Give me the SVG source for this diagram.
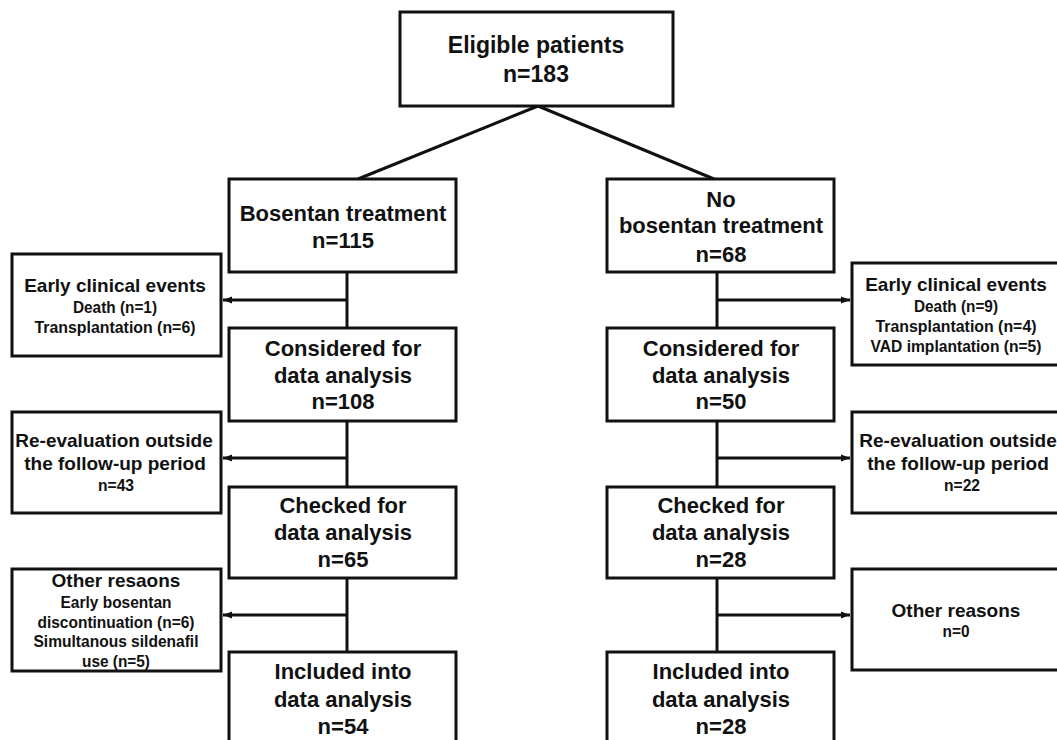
<svg xmlns="http://www.w3.org/2000/svg" width="1057" height="740" viewBox="0 0 1057 740">
<style>
.box{fill:#fff;stroke:#111;stroke-width:3}
.ln{fill:none;stroke:#111;stroke-width:3}
text{font-family:"Liberation Sans",Arial,sans-serif;font-weight:bold;fill:#111;text-anchor:middle}
.big{font-size:22px}
.top{font-size:23px}
.mid{font-size:19px}
.sm{font-size:17px}
</style>
<defs>
<marker id="ah" markerUnits="userSpaceOnUse" markerWidth="10" markerHeight="10" refX="9" refY="5" orient="auto">
<path d="M0,1.5 L9,5 L0,8.5 Z" fill="#111"/>
</marker>
</defs>
<rect width="1057" height="740" fill="#fff"/>
<g id="connectors">
<line class="ln" x1="538" y1="106" x2="358" y2="179"/>
<line class="ln" x1="538" y1="106" x2="714" y2="179"/>
<line class="ln" x1="347" y1="272" x2="347" y2="328"/>
<line class="ln" x1="347" y1="421" x2="347" y2="487"/>
<line class="ln" x1="347" y1="578" x2="347" y2="652"/>
<line class="ln" x1="347" y1="300" x2="223" y2="300" marker-end="url(#ah)"/>
<line class="ln" x1="347" y1="458" x2="223" y2="458" marker-end="url(#ah)"/>
<line class="ln" x1="347" y1="615" x2="223" y2="615" marker-end="url(#ah)"/>
<line class="ln" x1="717" y1="272" x2="717" y2="328"/>
<line class="ln" x1="717" y1="421" x2="717" y2="487"/>
<line class="ln" x1="717" y1="578" x2="717" y2="652"/>
<line class="ln" x1="717" y1="300" x2="850" y2="300" marker-end="url(#ah)"/>
<line class="ln" x1="717" y1="458" x2="850" y2="458" marker-end="url(#ah)"/>
<line class="ln" x1="717" y1="615" x2="850" y2="615" marker-end="url(#ah)"/>
</g>
<g id="eligible">
<rect class="box" x="400" y="12" width="273" height="94"/>
<text class="top" x="536" y="53">Eligible patients</text>
<text class="top" x="536" y="82">n=183</text>
</g>
<g id="bosentan">
<rect class="box" x="229" y="179" width="227" height="93"/>
<text class="big" x="343" y="221">Bosentan treatment</text>
<text class="big" x="343" y="248">n=115</text>
</g>
<g id="nobosentan">
<rect class="box" x="607" y="179" width="227" height="93"/>
<text class="big" x="721" y="207">No</text>
<text class="big" x="721" y="233">bosentan treatment</text>
<text class="big" x="721" y="262">n=68</text>
</g>
<g id="early-left">
<rect class="box" x="12" y="254" width="209" height="102"/>
<text class="mid" x="115" y="292">Early clinical events</text>
<text class="sm" x="115" y="313" textLength="84" lengthAdjust="spacingAndGlyphs">Death (n=1)</text>
<text class="sm" x="115" y="333" textLength="161" lengthAdjust="spacingAndGlyphs">Transplantation (n=6)</text>
</g>
<g id="considered-left">
<rect class="box" x="229" y="328" width="227" height="93"/>
<text class="big" x="343" y="356">Considered for</text>
<text class="big" x="343" y="383">data analysis</text>
<text class="big" x="343" y="409">n=108</text>
</g>
<g id="reeval-left">
<rect class="box" x="12" y="412" width="209" height="101"/>
<text class="mid" x="114" y="447">Re-evaluation outside</text>
<text class="mid" x="115" y="470">the follow-up period</text>
<text class="sm" x="116" y="491" textLength="36" lengthAdjust="spacingAndGlyphs">n=43</text>
</g>
<g id="checked-left">
<rect class="box" x="229" y="487" width="227" height="91"/>
<text class="big" x="343" y="513">Checked for</text>
<text class="big" x="343" y="540">data analysis</text>
<text class="big" x="343" y="567">n=65</text>
</g>
<g id="other-left">
<rect class="box" x="12" y="569" width="209" height="102"/>
<text class="mid" x="116" y="587">Other resaons</text>
<text class="sm" x="116" y="608" textLength="111" lengthAdjust="spacingAndGlyphs">Early bosentan</text>
<text class="sm" x="116" y="628" textLength="157" lengthAdjust="spacingAndGlyphs">discontinuation (n=6)</text>
<text class="sm" x="116" y="647" textLength="165" lengthAdjust="spacingAndGlyphs">Simultanous sildenafil</text>
<text class="sm" x="116" y="667" textLength="68" lengthAdjust="spacingAndGlyphs">use (n=5)</text>
</g>
<g id="included-left">
<rect class="box" x="229" y="652" width="227" height="95"/>
<text class="big" x="343" y="679">Included into</text>
<text class="big" x="343" y="707">data analysis</text>
<text class="big" x="343" y="734">n=54</text>
</g>
<g id="early-right">
<rect class="box" x="852" y="263" width="210" height="102"/>
<text class="mid" x="956" y="291">Early clinical events</text>
<text class="sm" x="956" y="312" textLength="84" lengthAdjust="spacingAndGlyphs">Death (n=9)</text>
<text class="sm" x="956" y="332" textLength="161" lengthAdjust="spacingAndGlyphs">Transplantation (n=4)</text>
<text class="sm" x="956" y="352" textLength="171" lengthAdjust="spacingAndGlyphs">VAD implantation (n=5)</text>
</g>
<g id="considered-right">
<rect class="box" x="607" y="328" width="227" height="93"/>
<text class="big" x="721" y="356">Considered for</text>
<text class="big" x="721" y="383">data analysis</text>
<text class="big" x="721" y="409">n=50</text>
</g>
<g id="reeval-right">
<rect class="box" x="852" y="412" width="210" height="101"/>
<text class="mid" x="958" y="447">Re-evaluation outside</text>
<text class="mid" x="958" y="470">the follow-up period</text>
<text class="sm" x="962" y="491" textLength="36" lengthAdjust="spacingAndGlyphs">n=22</text>
</g>
<g id="checked-right">
<rect class="box" x="607" y="487" width="227" height="91"/>
<text class="big" x="721" y="513">Checked for</text>
<text class="big" x="721" y="540">data analysis</text>
<text class="big" x="721" y="567">n=28</text>
</g>
<g id="other-right">
<rect class="box" x="852" y="569" width="210" height="101"/>
<text class="mid" x="956" y="617">Other reasons</text>
<text class="sm" x="956" y="637" textLength="27" lengthAdjust="spacingAndGlyphs">n=0</text>
</g>
<g id="included-right">
<rect class="box" x="607" y="652" width="227" height="95"/>
<text class="big" x="721" y="679">Included into</text>
<text class="big" x="721" y="707">data analysis</text>
<text class="big" x="721" y="734">n=28</text>
</g>
</svg>
